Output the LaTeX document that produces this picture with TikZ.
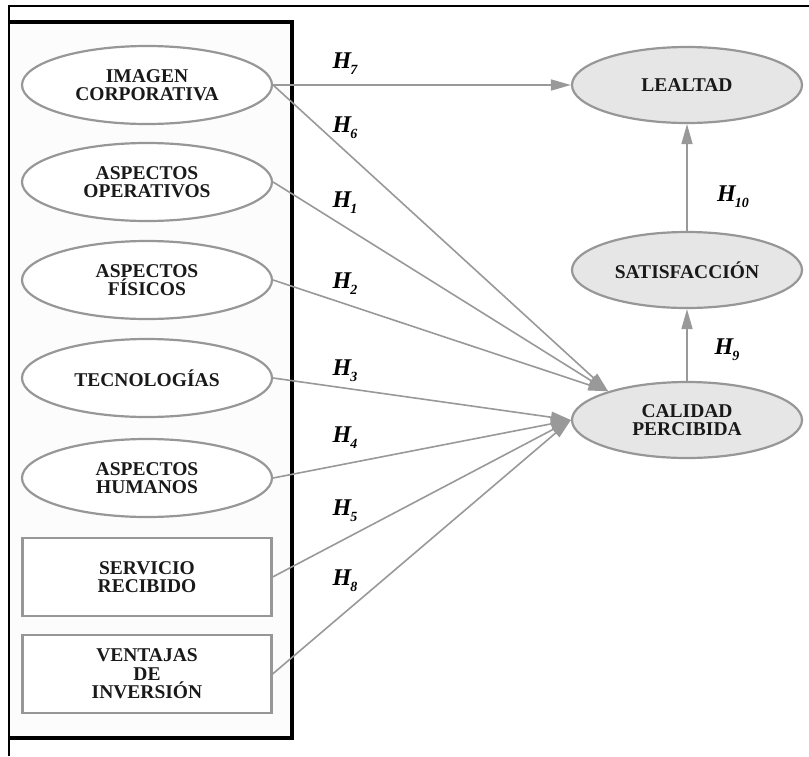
\documentclass[tikz,border=0pt]{standalone}
\usepackage{fontspec}
\setmainfont{Liberation Serif}
\usetikzlibrary{shapes.geometric,arrows.meta}
\definecolor{edge}{HTML}{999999}
\definecolor{rim}{HTML}{979797}
\definecolor{latent}{HTML}{E6E6E6}
\newcommand{\hyp}[1]{{\fontsize{24}{24}\selectfont\bfseries\itshape H\kern-1pt\raisebox{-6pt}{\fontsize{14}{14}\selectfont #1}}}
\tikzset{
  lbl/.style={font=\fontsize{19.5}{18.5}\selectfont\bfseries, align=center, text=black!90, inner sep=0pt},
  construct/.style={ellipse, draw=rim, line width=2.2pt, fill=white, lbl, minimum width=250pt, minimum height=78pt},
  observed/.style={rectangle, draw=rim, line width=2.2pt, fill=white, lbl, minimum width=249pt, minimum height=78pt},
  outcome/.style={ellipse, draw=rim, line width=2.2pt, fill=latent, lbl, minimum width=230pt, minimum height=76pt},
  path/.style={draw=edge, line width=1.6pt, -{Triangle[length=20pt,width=11pt]}},
  hlabel/.style={inner sep=0pt}
}
\begin{document}
\begin{tikzpicture}[x=1pt,y=-1pt]
  \useasboundingbox (0,0) rectangle (809,756);
  \fill[white] (0,0) rectangle (809,756);
  % outer frame (top and left edges)
  \draw[black, line width=1.2pt] (9,756) -- (9,6) -- (809,6);
  % antecedent panel
  \fill[black!1] (10,22) rectangle (292,738);
  \draw[black, line width=4pt] (9,22) -- (292,22) -- (292,738) -- (9,738);

  % antecedents
  \node[construct] (img) at (147,85)  {IMAGEN\\CORPORATIVA};
  \node[construct] (ope) at (147,182) {ASPECTOS\\OPERATIVOS};
  \node[construct] (fis) at (147,280) {ASPECTOS\\FÍSICOS};
  \node[construct] (tec) at (147,378) {TECNOLOGÍAS};
  \node[construct] (hum) at (147,478) {ASPECTOS\\HUMANOS};
  \node[observed]  (ser) at (147,577) {SERVICIO\\RECIBIDO};
  \node[observed]  (ven) at (147,674) {VENTAJAS\\DE\\INVERSIÓN};

  % outcomes
  \node[outcome] (lea) at (687,85)  {LEALTAD};
  \node[outcome] (sat) at (687,270) {SATISFACCIÓN};
  \node[outcome] (cal) at (687,420) {CALIDAD\\PERCIBIDA};

  % paths
  \draw[path] (img.east) -- (lea.west);
  \draw[path] (img.east) -- (cal.160);
  \draw[path] (ope.east) -- (cal.160);
  \draw[path] (fis.east) -- (cal.160);
  \draw[path] (tec.east) -- (cal.west);
  \draw[path] (hum.east) -- (cal.west);
  \draw[path] (ser.east) -- (cal.west);
  \draw[path] (ven.east) -- (cal.west);
  \draw[path] (cal.north) -- (sat.south);
  \draw[path] (sat.north) -- (lea.south);

  % hypothesis labels
  \node[hlabel] (h7)  at (345,64)  {\hyp{7}};
  \node[hlabel] (h6)  at (345,128) {\hyp{6}};
  \node[hlabel] (h1)  at (345,203) {\hyp{1}};
  \node[hlabel] (h2)  at (345,284) {\hyp{2}};
  \node[hlabel] (h3)  at (345,371) {\hyp{3}};
  \node[hlabel] (h4)  at (345,438) {\hyp{4}};
  \node[hlabel] (h5)  at (345,511) {\hyp{5}};
  \node[hlabel] (h8)  at (345,581) {\hyp{8}};
  \node[hlabel] (h10) at (733,197) {\hyp{10}};
  \node[hlabel] (h9)  at (727,350) {\hyp{9}};
\end{tikzpicture}
\end{document}
